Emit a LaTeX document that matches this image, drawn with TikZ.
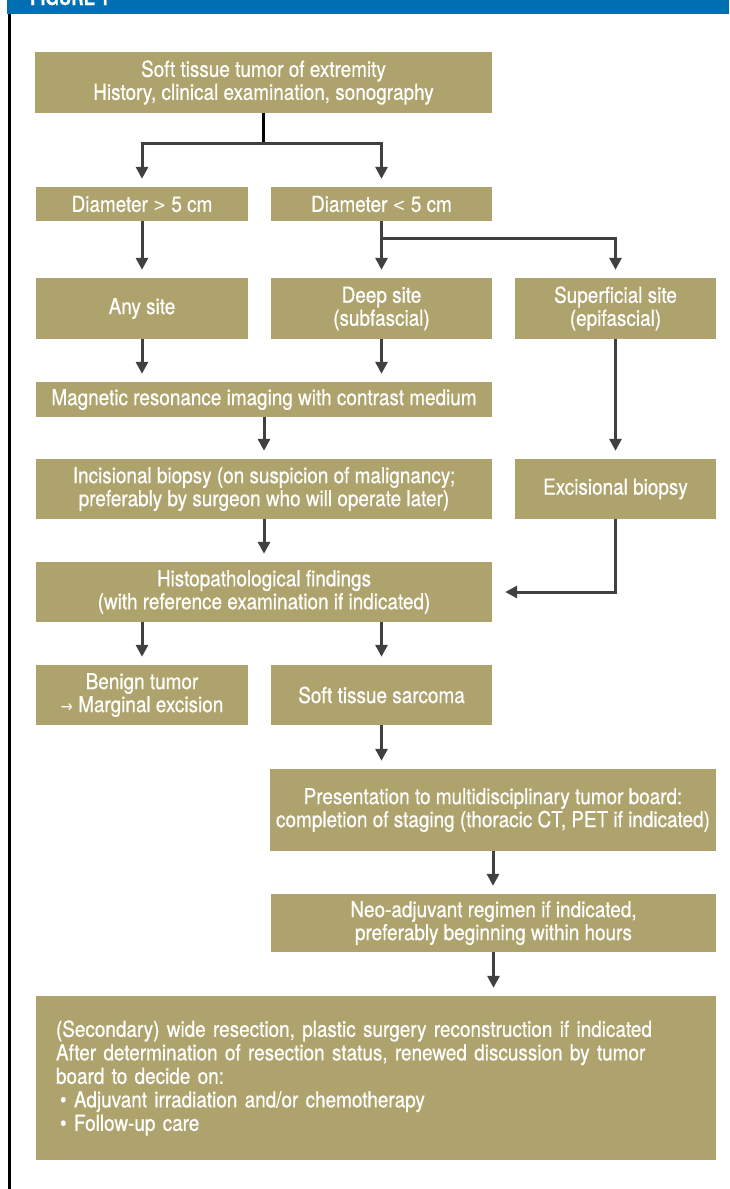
\documentclass[tikz,border=0pt]{standalone}
\usepackage{fontspec}
\setmainfont{TeX Gyre Heros}[FakeStretch=0.86,FakeBold=0.6]
\newfontfamily\arrowfont{DejaVu Sans}[FakeStretch=0.86]
\usetikzlibrary{arrows.meta}
\definecolor{khaki}{RGB}{174,163,108}
\definecolor{hdrblue}{RGB}{0,112,178}
\definecolor{arrowgray}{RGB}{64,64,64}
\newcommand{\boxfont}{\fontsize{22}{23}\selectfont}
\newcommand{\bul}{\hspace*{4pt}\makebox[14pt][l]{\textbullet}}
\tikzset{
  box/.style={fill=khaki, text=white, inner sep=0pt, align=center, font=\boxfont},
  flow/.style={draw=arrowgray, line width=3pt, -{Triangle[width=12pt,length=12pt]}, shorten >=8pt},
  plainline/.style={draw=arrowgray, line width=3pt}
}
\begin{document}
\begin{tikzpicture}[x=1pt,y=-1pt]
\useasboundingbox (0,0) rectangle (729,1189);
\clip (0,0) rectangle (729,1189);
\fill[white] (0,0) rectangle (729,1189);
% header
\fill[hdrblue] (7,0) rectangle (729,14);
\node[anchor=base west, text=white, inner sep=0pt, font=\bfseries\fontsize{20}{20}\selectfont] (hdr) at (30,5) {FIGURE 1};
\draw[black, line width=3pt] (9,14) -- (9,1189);
% boxes
\node[box, minimum width=457pt, minimum height=61pt] (b1) at (263.5,82.5) {Soft tissue tumor of extremity\\History, clinical examination, sonography};
\node[box, minimum width=212pt, minimum height=34pt] (d1) at (142,204) {Diameter {\arrowfont\fontsize{18}{18}\selectfont >} 5 cm};
\node[box, minimum width=221pt, minimum height=34pt] (d2) at (381.5,204) {Diameter {\arrowfont\fontsize{18}{18}\selectfont <} 5 cm};
\node[box, minimum width=212pt, minimum height=61pt] (s1) at (142,308.5) {Any site};
\node[box, minimum width=221pt, minimum height=61pt] (s2) at (381.5,308.5) {Deep site\\(subfascial)};
\node[box, minimum width=201pt, minimum height=61pt] (s3) at (615.5,308.5) {Superficial site\\(epifascial)};
\node[box, minimum width=456pt, minimum height=35pt] (mri) at (264,399.5) {Magnetic resonance imaging with contrast medium};
\node[box, minimum width=456pt, minimum height=60pt] (inc) at (264,489) {Incisional biopsy (on suspicion of malignancy;\\preferably by surgeon who will operate later)};
\node[box, minimum width=201pt, minimum height=60pt] (exc) at (615.5,489) {Excisional biopsy};
\node[box, minimum width=456pt, minimum height=60pt] (histo) at (264,592) {Histopathological findings\\(with reference examination if indicated)};
\node[box, minimum width=212pt, minimum height=60pt] (benign) at (142,695) {Benign tumor\\{\arrowfont\fontsize{17}{17}\selectfont →} Marginal excision};
\node[box, minimum width=221pt, minimum height=60pt] (sarc) at (381.5,695) {Soft tissue sarcoma};
\node[box, minimum width=446pt, minimum height=82pt] (pres) at (493,810) {Presentation to multidisciplinary tumor board:\\completion of staging (thoracic CT, PET if indicated)};
\node[box, minimum width=445pt, minimum height=58pt] (neo) at (493.5,923) {Neo-adjuvant regimen if indicated,\\preferably beginning within hours};
\node[box, align=left, text width=640pt, inner xsep=20pt, inner ysep=0pt, minimum height=164pt, font=\fontsize{22}{23.5}\selectfont] (final) at (376,1078) {(Secondary) wide resection, plastic surgery reconstruction if indicated\\After determination of resection status, renewed discussion by tumor\\board to decide on:\\\bul Adjuvant irradiation and/or chemotherapy\\\bul Follow-up care};
% connectors
\draw[black, line width=3pt] (b1.south) -- ++(0,30) coordinate (j1);
\draw[flow] (j1) -| (d1.north);
\draw[flow] (j1) -| (d2.north);
\draw[flow] (d1.south) -- (s1.north);
\draw[plainline] (d2.south) -- ++(0,17) coordinate (j2);
\draw[flow] (j2) -- (s2.north);
\draw[flow] (j2) -| (s3.north);
\draw[flow] (s1.south) -- (s1.south |- mri.north);
\draw[flow] (s2.south) -- (s2.south |- mri.north);
\draw[flow] (mri.south) -- (inc.north);
\draw[flow] (s3.south) -- (exc.north);
\draw[flow] (inc.south) -- (histo.north);
\draw[flow, shorten >=13pt] (exc.south) |- (histo.east);
\draw[flow] (benign.north |- histo.south) -- (benign.north);
\draw[flow] (sarc.north |- histo.south) -- (sarc.north);
\draw[flow] (sarc.south) -- (sarc.south |- pres.north);
\draw[flow] (pres.south) -- (pres.south |- neo.north);
\draw[flow] (neo.south) -- (neo.south |- final.north);
\end{tikzpicture}
\end{document}
